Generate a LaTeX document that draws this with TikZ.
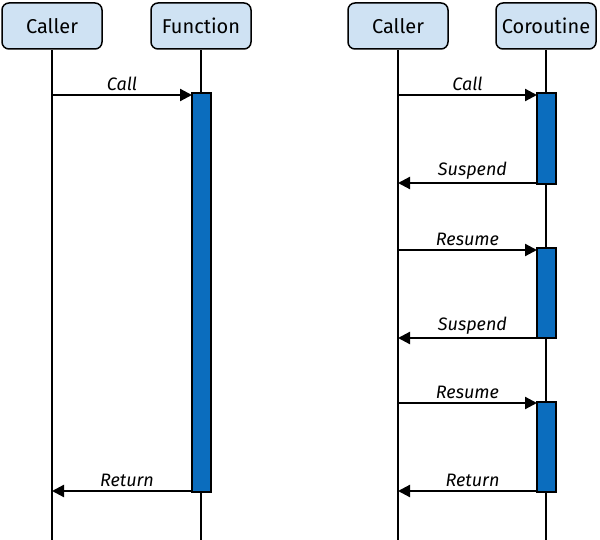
\documentclass[tikz,border=0pt]{standalone}
\usepackage{fontspec}
\setmainfont{Fira Sans}
\usetikzlibrary{arrows.meta}
\definecolor{boxfill}{HTML}{CFE2F3}
\definecolor{barfill}{HTML}{0B6DBE}
\begin{document}
\begin{tikzpicture}[x=1pt,y=-1pt,
  head/.style={draw=black,line width=1.5pt,fill=boxfill,rounded corners=7pt,minimum width=100pt,minimum height=46pt,font=\fontsize{20}{24}\selectfont,inner sep=0pt},
  life/.style={line width=1.2pt},
  bar/.style={draw=black,line width=1.2pt,fill=barfill},
  msg/.style={line width=2.2pt,-{Triangle[length=12pt,width=12pt]}},
  lab/.style={font=\itshape\fontsize{18}{20}\selectfont,above,inner sep=3pt}]
\useasboundingbox (0,0) rectangle (600,540);
\foreach \n/\x/\t in {c1/52/Caller,f/201/Function,c2/398/Caller,co/546/Coroutine}{
  \coordinate (\n b) at (\x,540);
  \draw[life] (\x,50) -- (\n b);
  \node[head] (\n) at (\x,26) {\t};
}
\draw[bar] (192,93) rectangle (211,492);
\draw[bar] (537,93) rectangle (556,184);
\draw[bar] (537,248) rectangle (556,338);
\draw[bar] (537,402) rectangle (556,492);
\coordinate (a1) at (52,95); \coordinate (b1) at (192,95);
\coordinate (a2) at (192,491); \coordinate (b2) at (52,491);
\draw[msg] (a1) -- node[lab]{Call} (b1);
\draw[msg] (a2) -- node[lab,xshift=5pt]{Return} (b2);
\foreach \y/\t/\d in {95/Call/1,183/Suspend/0,250/Resume/1,338/Suspend/0,403/Resume/1,491/Return/0}{
  \coordinate (l\y) at (398,\y); \coordinate (r\y) at (537,\y);
  \ifnum\d=1 \draw[msg] (l\y) -- node[lab]{\t} (r\y);
  \else \draw[msg] (r\y) -- node[lab,xshift=5pt]{\t} (l\y); \fi
}
\end{tikzpicture}
\end{document}
